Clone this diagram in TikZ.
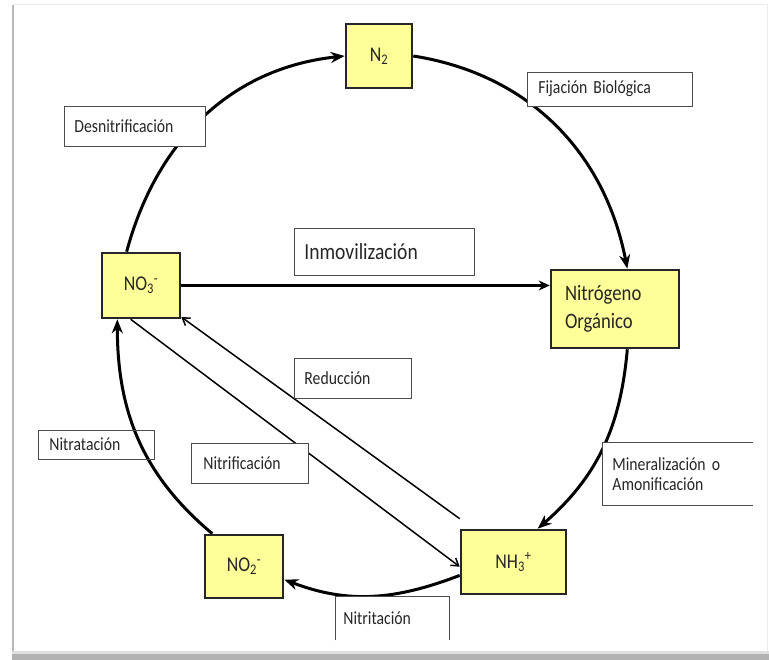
\documentclass[tikz,border=0pt]{standalone}
\usepackage{fontspec}
\setmainfont{Carlito}[FakeStretch=0.85]
\usetikzlibrary{arrows.meta, backgrounds}

\definecolor{boxyellow}{RGB}{255,255,153}

\begin{document}
\begin{tikzpicture}[
        x=1pt, y=1pt,
        >={Stealth[length=14pt, width=11pt]},
        species/.style={draw=black!85, line width=2.6pt, fill=boxyellow,
          text=black!85, font=\fontsize{21}{27}\selectfont, inner sep=0pt},
        tag/.style={draw=black!70, line width=0.8pt, fill=white, text=black!85,
          font=\fontsize{18.5}{20}\selectfont, inner xsep=10pt, inner ysep=0pt,
          align=left, anchor=west},
        tagline/.style={draw=black!70, line width=0.8pt},
        flowline/.style={->, line width=3pt, black},
        tracer/.style={-{Straight Barb[length=7pt, width=9pt]}, line width=1.5pt, black},
      ]

      \useasboundingbox (0,0) rectangle (769,660);

      % species boxes
      \node[species, minimum width=66pt, minimum height=64pt] (n2) at (379,604) {N\textsubscript{2}};
      \node[species, minimum width=78pt, minimum height=65pt] (no3) at (141,374.5) {NO\textsubscript{3}\textsuperscript{-}};
      \node[species, text width=100pt, inner xsep=14pt, minimum height=78pt, align=left,
        font=\fontsize{22}{28}\selectfont] (norg) at (615,351) {Nitrógeno\\Orgánico};
      \node[species, minimum width=78pt, minimum height=63pt] (no2) at (244,93.5) {NO\textsubscript{2}\textsuperscript{-}};
      \node[species, minimum width=105pt, minimum height=64pt] (nh3) at (513.5,98) {NH\textsubscript{3}\textsuperscript{+}};

      % process labels
      \node[tag, text width=121pt, minimum height=40pt] (desn) at (64,534) {Desnitrificación};
      \node[tag, text width=143pt, inner xsep=11pt, minimum height=34pt] (fij) at (527,571) {Fijación Biológica};
      \node[tag, text width=160pt, minimum height=47pt, font=\fontsize{23}{26}\selectfont]
        (inmov) at (294,408.5) {Inmovilización};
      \node[tag, text width=97pt, minimum height=40pt] (reduc) at (294,282) {Reducción};
      \node[tag, text width=94pt, inner xsep=11pt, minimum height=29pt, fill=none] (nitrat) at (38,215.5) {Nitratación};
      \node[tag, text width=93pt, inner xsep=12pt, minimum height=40pt] (nitrif) at (191,197) {Nitrificación};
      \node[tag, text width=130pt, minimum height=62pt, draw=none] (miner) at (602,186) {Mineralización o\\Amonificación};
      \node[tag, text width=98pt, inner xsep=8pt, minimum height=43pt, draw=none] (nitrit) at (335,41.5) {Nitritación};

      \draw[tagline] (miner.north east) -- (miner.north west) -- (miner.south west) -- (miner.south east);
      \draw[tagline] (nitrit.south west) -- (nitrit.north west) -- (nitrit.north east) -- (nitrit.south east);

      \coordinate (redtail) at ([yshift=10pt]nh3.north west);

      \begin{pgfonlayer}{background}
        % page frame
        \fill[white] (0,0) rectangle (769,660);
        \fill[gray!60] (12,0) rectangle (769,6);
        \fill[gray!25] (12,6) rectangle (769,9);
        \draw[gray!55, line width=2pt] (13,9) -- (13,655);
        \draw[gray!15, line width=1pt] (13,655) -- (767,655) -- (767,9);

        \path[flowline]
        (no3.113)  edge [out=75,  in=186] (n2.west)
        (n2.east)  edge [out=-9,  in=101] (norg.73)
        (norg.-73) edge [out=-95, in=41]  (nh3.54)
        (nh3.194)  edge [out=201, in=-21] (no2.-18)
        (no2.134)  edge [out=140, in=-90] (no3.235)
        (no3.east) edge [line width=3.2pt, -{Stealth[length=11pt, width=10pt]}] (no3.east -| norg.west);

        \path[tracer]
        (redtail)  edge (no3.-38)
        (no3.253)  edge (nh3.185);
      \end{pgfonlayer}
    \end{tikzpicture}
\end{document}
